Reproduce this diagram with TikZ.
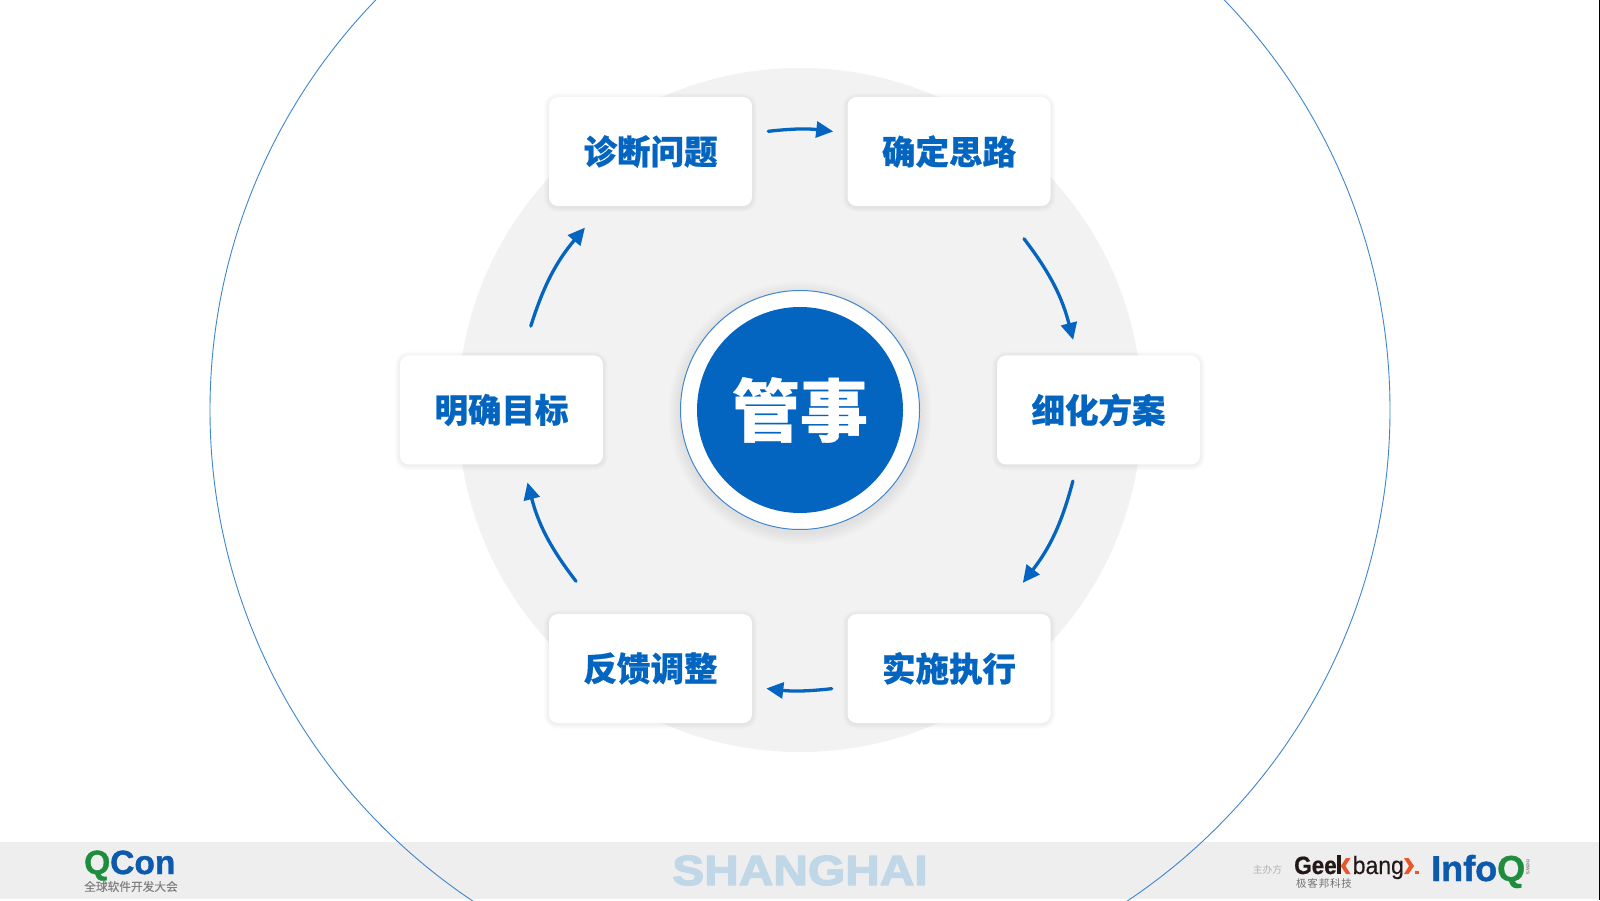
\documentclass[tikz,border=0pt]{standalone}
\usepackage{fontspec}
\usetikzlibrary{arrows.meta,calc}
\newfontfamily\cjk[BoldFeatures={FakeBold=0.6}]{Noto Sans CJK SC}
\newfontfamily\cjklogo[FakeBold=0.25]{Noto Sans CJK SC}
\newfontfamily\lat{Liberation Sans}
\newfontfamily\logofont[BoldFeatures={FakeBold=1.2}]{Liberation Sans}
\newfontfamily\narrowbold[BoldFeatures={FakeBold=0.6,FakeStretch=0.9}]{Liberation Sans}
\newfontfamily\narrowreg[FakeStretch=0.92,FakeBold=0.2]{Liberation Sans}
\newfontfamily\shfont[BoldFeatures={FakeStretch=1.14,FakeBold=3}]{Liberation Sans}
\newfontfamily\cjkspaced[LetterSpace=8]{Noto Sans CJK SC}
\definecolor{mainblue}{HTML}{0365C0}
\definecolor{ringblue}{HTML}{3F86CF}
\definecolor{disc}{HTML}{F2F2F2}
\definecolor{footer}{HTML}{EEEEEE}
\definecolor{shtext}{HTML}{C0D7E7}
\definecolor{qgreen}{HTML}{1E8E3E}
\definecolor{qblue}{HTML}{0B5AAD}
\definecolor{gborange}{HTML}{E8562A}
\definecolor{gbdark}{HTML}{231815}
\tikzset{
  layer/.style n args={3}{preaction={transform canvas={yshift=#1},draw=black,draw opacity=#3,line width=#2,fill=none}},
  softshadow/.style={layer={-1pt}{2pt}{0.012},layer={-1pt}{4pt}{0.012},layer={-1pt}{6pt}{0.012},layer={-1pt}{8pt}{0.012},layer={-1pt}{10pt}{0.012}},
  bigshadow/.style={layer={-3pt}{4pt}{0.012},layer={-3pt}{8pt}{0.012},layer={-3pt}{12pt}{0.012},layer={-3pt}{16pt}{0.012},layer={-3pt}{20pt}{0.012},layer={-3pt}{24pt}{0.012}},
  stepbox/.style={rectangle,rounded corners=9pt,fill=white,minimum width=203pt,minimum height=109pt,inner sep=0pt,outer sep=0pt,softshadow,text=mainblue,font=\cjk\bfseries\fontsize{33.5}{40}\selectfont},
  flow/.style={draw=mainblue,line width=3.3pt,line cap=round,-{Triangle[length=17pt,width=16pt]}},
}
\begin{document}
\begin{tikzpicture}[x=1pt,y=1pt]
\useasboundingbox (0,0) rectangle (1600,900);
\clip (0,0) rectangle (1600,900);
\fill[white] (0,0) rectangle (1600,900);
% footer band
\fill[footer] (0,1) rectangle (1599,58);
\fill[black] (1599,0) rectangle (1600,900);
\node[circle,draw=ringblue,line width=0.9pt,minimum size=1180pt,inner sep=0pt] (outer) at (800,490) {};
\node[circle,fill=disc,minimum size=684pt,inner sep=0pt] (graydisc) at (800,490) {};
% boxes
\node[stepbox] (b1) at (650.5,748.5) {诊断问题};
\node[stepbox] (b2) at (949,748.5) {确定思路};
\node[stepbox] (b3) at (1098.5,490) {细化方案};
\node[stepbox] (b4) at (949,231.5) {实施执行};
\node[stepbox] (b5) at (650.5,231.5) {反馈调整};
\node[stepbox] (b6) at (501.5,490) {明确目标};
% centre
\node[circle,fill=white,draw=ringblue,line width=1pt,minimum size=239pt,inner sep=0pt,bigshadow] (ring) at (800,490) {};
\node[circle,fill=mainblue,minimum size=206pt,inner sep=0pt,text=white,font=\cjk\bfseries\fontsize{68}{80}\selectfont] (core) at (ring) {管事};
% arrows
\coordinate[shift={(800,490)}] (a1s) at (96.5:280.5);
\coordinate[shift={(800,490)}] (a1e) at (83.2:280.5);
\coordinate[shift={(800,490)}] (a2s) at (37.4:282);
\coordinate[shift={(800,490)}] (a2e) at (14.4:282);
\coordinate[shift={(800,490)}] (a3s) at (-14.6:282);
\coordinate[shift={(800,490)}] (a3e) at (-37.8:282);
\coordinate[shift={(800,490)}] (a4s) at (-83.5:280.5);
\coordinate[shift={(800,490)}] (a4e) at (-96.9:280.5);
\coordinate[shift={(800,490)}] (a5s) at (217.4:282);
\coordinate[shift={(800,490)}] (a5e) at (194.9:282);
\coordinate[shift={(800,490)}] (a6s) at (162.7:282);
\coordinate[shift={(800,490)}] (a6e) at (139.7:282);
\draw[flow] (a1s) to[bend left=6.5] (a1e);
\draw[flow] (a2s) to[bend left=11.4] (a2e);
\draw[flow] (a3s) to[bend left=11.4] (a3e);
\draw[flow] (a4s) to[bend left=6.5] (a4e);
\draw[flow] (a5s) to[bend left=11.4] (a5e);
\draw[flow] (a6s) to[bend left=11.3] (a6e);
% footer texts
\node[anchor=base,inner sep=0pt,text=shtext,font=\shfont\bfseries\fontsize{42}{48}\selectfont] (shanghai) at (800,15) {SHANGHAI};
% QCon
\node[anchor=base west,inner sep=0pt,font=\logofont\bfseries\fontsize{33.5}{40}\selectfont] (qcon) at (84,26) {\textcolor{qgreen}{Q}\textcolor{qblue}{Con}};
\node[anchor=center,inner sep=0pt,text=black!50,font=\cjklogo\fontsize{11.7}{14}\selectfont] (qconcn) at (131,13.5) {全球软件开发大会};
% Geekbang
\node[anchor=center,inner sep=0pt,text=black!30,font=\cjk\fontsize{9.8}{12}\selectfont] (host) at (1267.5,30) {主办方};
\node[anchor=base west,inner sep=0pt,text=gbdark,font=\narrowbold\bfseries\fontsize{25}{30}\selectfont] (gee) at (1294,26) {Gee};
\fill[gbdark] (1337,26) rectangle (1340.5,45.5);
\fill[gborange] (1350.5,42) -- (1346,42) -- (1340.8,34) -- (1346,26) -- (1350.5,26) -- (1345.5,34) -- cycle;
\node[anchor=base west,inner sep=0pt,text=gbdark,font=\narrowreg\fontsize{25}{30}\selectfont] (bang) at (1352.5,26) {bang};
\fill[gborange] (1404,42) -- (1408.5,42) -- (1414,34) -- (1408.5,26) -- (1404,26) -- (1409,34) -- cycle;
\fill[gborange] (1415,26) rectangle (1418.5,29.5);
\node[anchor=center,inner sep=0pt,text=black!55,font=\cjkspaced\fontsize{10.5}{12}\selectfont] (gbcn) at (1324,17) {极客邦科技};
% InfoQ
\node[anchor=base west,inner sep=0pt,font=\logofont\bfseries\fontsize{36}{40}\selectfont] (infoq) at (1431,19) {\textcolor{qblue}{Info}\textcolor{qgreen}{Q}};
\node[rotate=-90,anchor=center,inner sep=0pt,text=black!45,font=\lat\bfseries\fontsize{6}{7}\selectfont] (news) at (1528,33) {news};
\end{tikzpicture}
\end{document}
